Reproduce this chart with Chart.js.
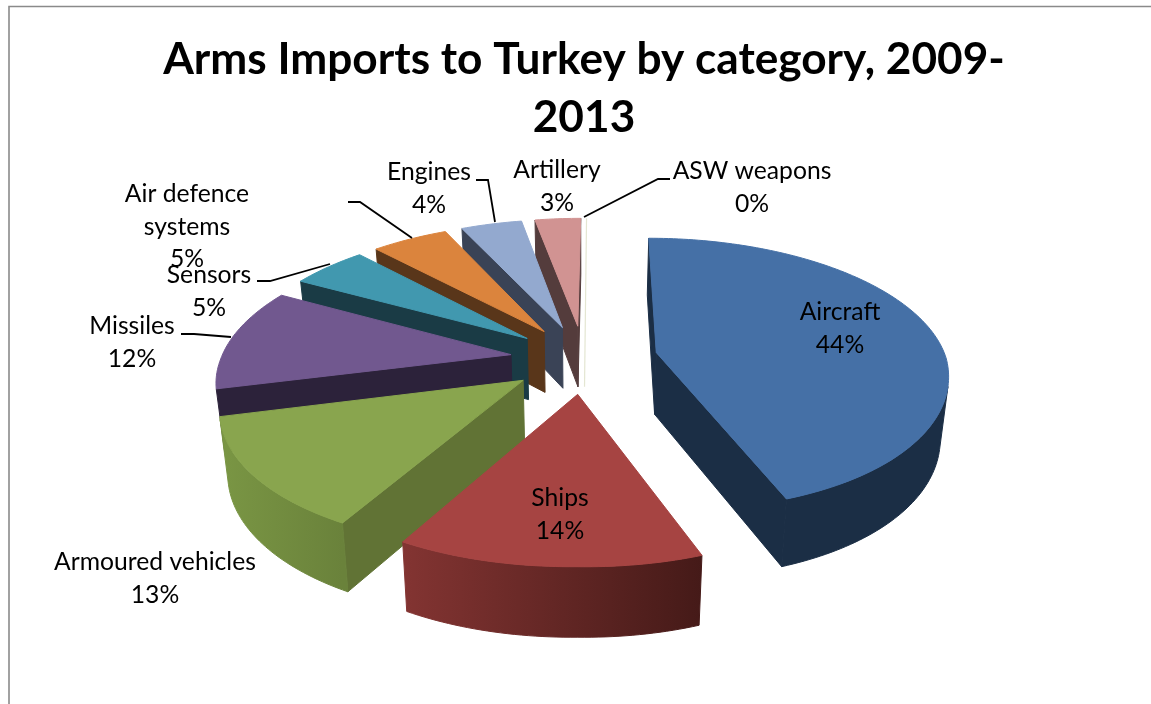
<!DOCTYPE html>
<html>
<head>
<meta charset="utf-8">
<title>Arms Imports to Turkey by category</title>
<script src="https://cdn.jsdelivr.net/npm/chart.js@4"></script>
<style>
  html, body { margin: 0; padding: 0; background: #fff; }
  canvas { display: block; }
</style>
</head>
<body>
<canvas id="armsChart" width="1151" height="704"></canvas>
<script>
const categories = ['Aircraft', 'Ships', 'Armoured vehicles', 'Missiles', 'Sensors', 'Air defence systems', 'Engines', 'Artillery', 'ASW weapons'];
const shares = [44, 14, 13, 12, 5, 5, 4, 3, 0];

const topColors = ['#4570a6', '#a64442', '#89a54e', '#71588f', '#4198af', '#db843d', '#93a9cf', '#d19392', '#e4e6d2'];
// outer wall shading, first and last end of each arc
const wallFrom = ['#1b2e45', '#451a18', '#6a823b', '#2c223a', '#1a3b45', '#59361a', '#3a4356', '#543c3c', '#e4e6d2'];
const wallTo = ['#1b2e45', '#833432', '#7a9644', '#2c223a', '#1a3b45', '#59361a', '#3a4356', '#543c3c', '#e4e6d2'];
const cutColors = ['#1b2e45', '#451a18', '#617335', '#2c223a', '#1a3b45', '#59361a', '#3a4356', '#543c3c', '#e4e6d2'];

// label anchors: centre x, y of the first line
const labelSpots = [[840, 312], [560, 498], [155, 562], [132, 326], [209, 275], [187, 194], [429, 172], [557, 170], [752, 171]];
const wrappedNames = { 'Air defence systems': ['Air defence', 'systems'] };
const leaderLines = [
  [[348, 202], [360, 202], [412, 238]],
  [[257, 281], [270, 281], [330, 264]],
  [[181, 334], [194, 334], [231, 337]],
  [[476, 180], [488, 180], [495, 222]],
  [[584, 217], [658, 179], [670, 179]]
];

const explode = 74;
const perspective = 0.00053;
const tilt = 0.461;
const depth = 62;
const taper = 0.023;
const skewFront = 0.02;
const skewBack = 0.007;
const roll = 0.00008;

// plane point (u right, v toward the viewer), z 0 = top face, 1 = bottom face
function project(el, u, v, z) {
  const w = 1 / (1 - perspective * v);
  const front = Math.max(v, 0), back = Math.max(-v, 0);
  return {
    x: el.x + u * w * (1 - taper * z) - skewFront * front + skewBack * back,
    y: el.y + tilt * v * w + depth * z * Math.pow(w, 0.6) + roll * Math.max(u, 0) * front
  };
}

function fillPoly(ctx, pts, color) {
  ctx.beginPath();
  pts.forEach((p, i) => i ? ctx.lineTo(p.x, p.y) : ctx.moveTo(p.x, p.y));
  ctx.closePath();
  ctx.fillStyle = color;
  ctx.strokeStyle = color;
  ctx.lineWidth = 1;
  ctx.fill();
  ctx.stroke();
}

function signedArea(pts) {
  let s = 0;
  pts.forEach((p, i) => {
    const q = pts[(i + 1) % pts.length];
    s += p.x * q.y - q.x * p.y;
  });
  return s;
}

function drawSlice(ctx, el, i) {
  const mid = (el.startAngle + el.endAngle) / 2;
  const ax = explode * Math.cos(mid), ay = explode * Math.sin(mid);
  const R = el.outerRadius;
  const span = el.endAngle - el.startAngle;

  if (span < 1e-4) {
    // empty slice only shows as a hairline
    const a = project(el, ax + R * Math.cos(mid), ay + R * Math.sin(mid), 0);
    const b = project(el, ax, ay, 1);
    ctx.beginPath();
    ctx.moveTo(a.x, a.y);
    ctx.lineTo(b.x, b.y);
    ctx.strokeStyle = topColors[i];
    ctx.lineWidth = 1.2;
    ctx.stroke();
    return;
  }

  const steps = Math.max(4, Math.ceil(span / 0.02));
  const rim = [];
  for (let s = 0; s <= steps; s++) {
    const a = el.startAngle + span * s / steps;
    rim.push([ax + R * Math.cos(a), ay + R * Math.sin(a)]);
  }
  const apex = [ax, ay];
  const wallFace = (p, q) => [project(el, p[0], p[1], 0), project(el, q[0], q[1], 0), project(el, q[0], q[1], 1), project(el, p[0], p[1], 1)];
  const cut = (p, q) => {
    const face = wallFace(p, q);
    if (signedArea(face) < 0) fillPoly(ctx, face, cutColors[i]);
  };

  cut(apex, rim[0]);
  cut(rim[steps], apex);

  // the part of the curved wall that faces the viewer, as one shape
  const upper = [], lower = [];
  for (let s = 0; s < steps; s++) {
    if (signedArea(wallFace(rim[s], rim[s + 1])) >= 0) continue;
    if (!upper.length) {
      upper.push(project(el, rim[s][0], rim[s][1], 0));
      lower.push(project(el, rim[s][0], rim[s][1], 1));
    }
    upper.push(project(el, rim[s + 1][0], rim[s + 1][1], 0));
    lower.push(project(el, rim[s + 1][0], rim[s + 1][1], 1));
  }
  if (upper.length) {
    const shade = ctx.createLinearGradient(upper[0].x, 0, upper[upper.length - 1].x, 0);
    shade.addColorStop(0, wallFrom[i]);
    shade.addColorStop(1, wallTo[i]);
    fillPoly(ctx, upper.concat(lower.reverse()), shade);
  }

  const top = [apex].concat(rim).map(p => project(el, p[0], p[1], 0));
  fillPoly(ctx, top, el.options.backgroundColor);
}

const extrudedPie = {
  id: 'extrudedPie',
  beforeDraw(chart) {
    // chart frame, open on the right and at the bottom
    const ctx = chart.ctx;
    ctx.save();
    ctx.strokeStyle = '#8a8a8a';
    ctx.lineWidth = 1.6;
    ctx.beginPath();
    ctx.moveTo(9, 704);
    ctx.lineTo(9, 6.5);
    ctx.lineTo(1151, 6.5);
    ctx.stroke();
    ctx.restore();
  },
  beforeDatasetsDraw(chart) {
    const ctx = chart.ctx;
    const arcs = chart.getDatasetMeta(0).data;
    const order = arcs.map((el, i) => i);
    // back to front
    order.sort((a, b) => Math.sin((arcs[a].startAngle + arcs[a].endAngle) / 2) - Math.sin((arcs[b].startAngle + arcs[b].endAngle) / 2));
    ctx.save();
    order.forEach(i => drawSlice(ctx, arcs[i], i));
    ctx.restore();
    return false;
  },
  afterDraw(chart) {
    const ctx = chart.ctx;
    ctx.save();
    ctx.strokeStyle = '#000';
    ctx.lineWidth = 1.8;
    leaderLines.forEach(line => {
      ctx.beginPath();
      line.forEach((p, i) => i ? ctx.lineTo(p[0], p[1]) : ctx.moveTo(p[0], p[1]));
      ctx.stroke();
    });
    ctx.fillStyle = '#000';
    ctx.font = '24.7px Lato';
    ctx.textAlign = 'center';
    ctx.textBaseline = 'middle';
    categories.forEach((name, i) => {
      const lines = (wrappedNames[name] || [name]).concat(shares[i] + '%');
      lines.forEach((text, n) => ctx.fillText(text, labelSpots[i][0], labelSpots[i][1] + n * 32.6));
    });
    ctx.restore();
  }
};

new Chart(document.getElementById('armsChart'), {
  type: 'pie',
  data: {
    labels: categories,
    datasets: [{ data: shares, backgroundColor: topColors, borderWidth: 0 }]
  },
  options: {
    responsive: false,
    animation: false,
    radius: 290,
    layout: { padding: { left: 17, top: 0, bottom: 133 } },
    plugins: {
      legend: { display: false },
      tooltip: { enabled: false },
      title: {
        display: true,
        text: ['Arms Imports to Turkey by category, 2009-', '2013'],
        color: '#000',
        font: { family: 'Lato', size: 44.2, weight: 'bold', lineHeight: 1.31 },
        padding: { top: 31, bottom: 0 }
      }
    }
  },
  plugins: [extrudedPie]
});
</script>
</body>
</html>
